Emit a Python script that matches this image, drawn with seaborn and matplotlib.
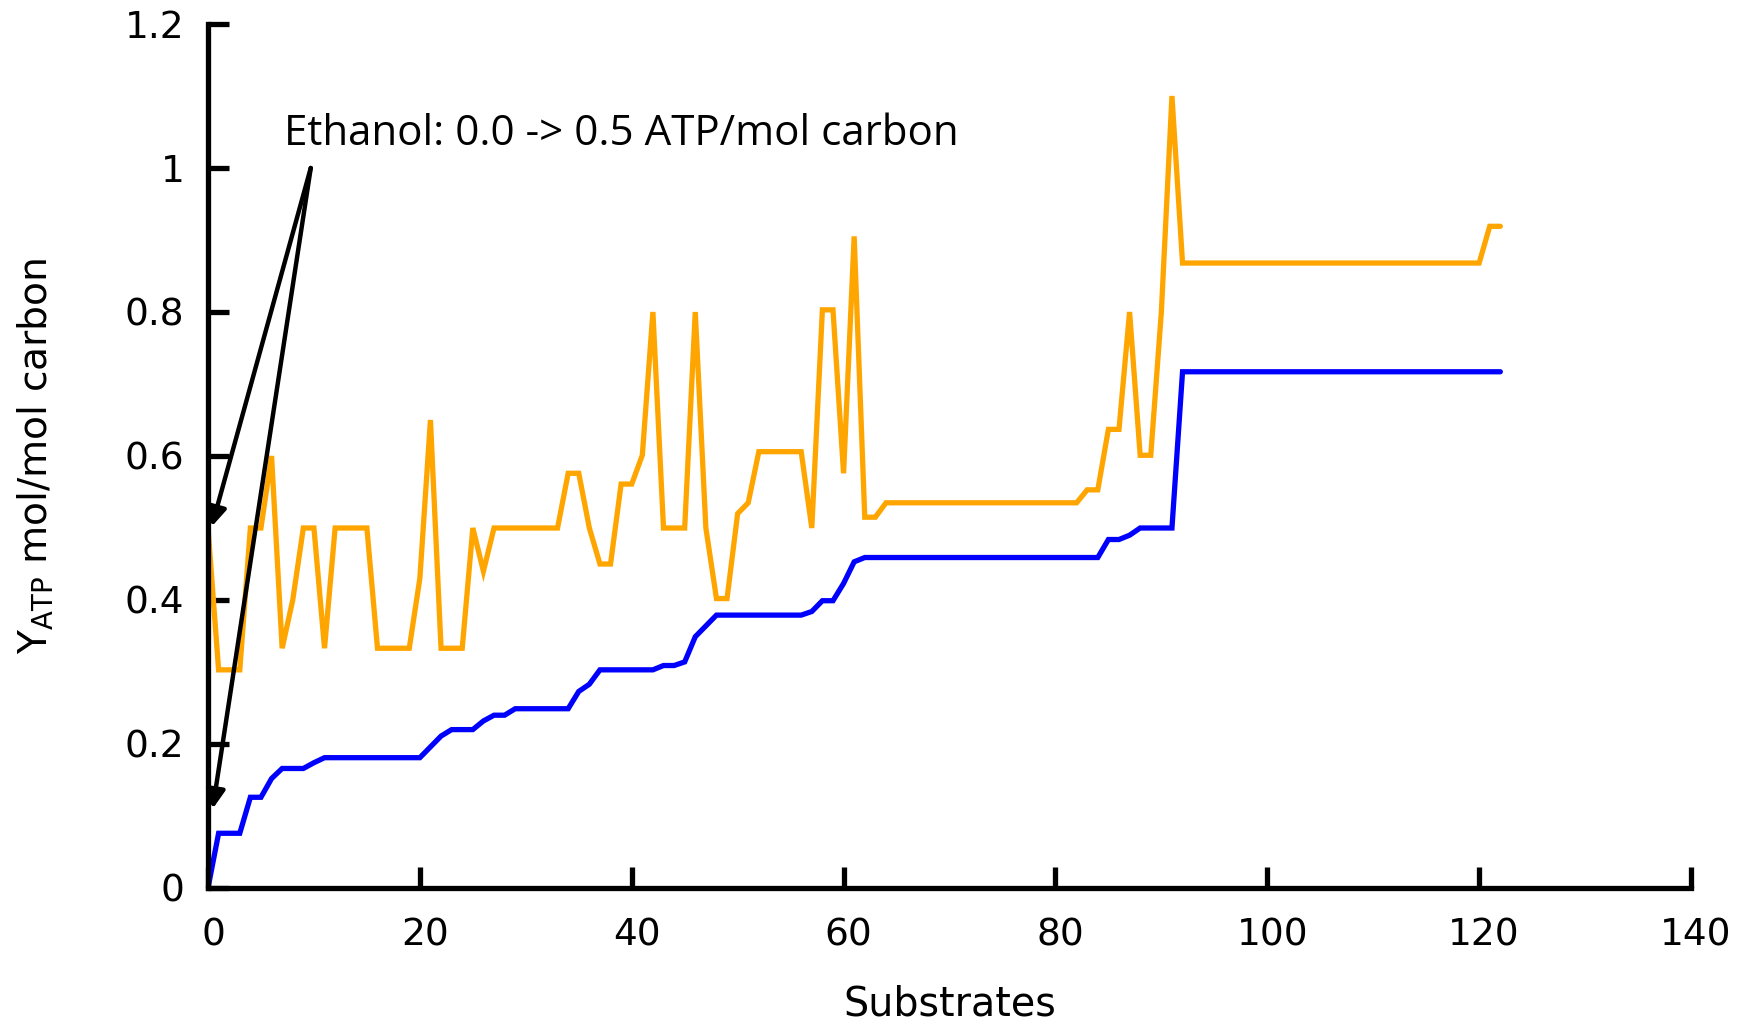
import matplotlib
matplotlib.use("Agg")
import matplotlib.pyplot as plt
import matplotlib.transforms as mtransforms
import numpy as np
import pandas as pd
import seaborn as sns

# ---- data ----
substrates = list(range(0, 123))

yatp_before = [
    0.0, 0.076, 0.076, 0.076, 0.126, 0.126, 0.152, 0.166, 0.166, 0.166,
    0.174, 0.181, 0.181, 0.181, 0.181, 0.181, 0.181, 0.181, 0.181, 0.181,
    0.181, 0.196, 0.211, 0.220, 0.220, 0.220, 0.232, 0.240, 0.240, 0.249,
    0.249, 0.249, 0.249, 0.249, 0.249, 0.273, 0.283, 0.303, 0.303, 0.303,
    0.303, 0.303, 0.303, 0.309, 0.309, 0.314, 0.349, 0.364, 0.379, 0.379,
    0.379, 0.379, 0.379, 0.379, 0.379, 0.379, 0.379, 0.384, 0.399, 0.399,
    0.423, 0.453, 0.459, 0.459, 0.459, 0.459, 0.459, 0.459, 0.459, 0.459,
    0.459, 0.459, 0.459, 0.459, 0.459, 0.459, 0.459, 0.459, 0.459, 0.459,
    0.459, 0.459, 0.459, 0.459, 0.459, 0.484, 0.484, 0.490, 0.500, 0.500,
    0.500, 0.500, 0.717, 0.717, 0.717, 0.717, 0.717, 0.717, 0.717, 0.717,
    0.717, 0.717, 0.717, 0.717, 0.717, 0.717, 0.717, 0.717, 0.717, 0.717,
    0.717, 0.717, 0.717, 0.717, 0.717, 0.717, 0.717, 0.717, 0.717, 0.717,
    0.717, 0.717, 0.717,
]

yatp_after = [
    0.500, 0.303, 0.303, 0.303, 0.500, 0.500, 0.600, 0.333, 0.400, 0.500,
    0.500, 0.333, 0.500, 0.500, 0.500, 0.500, 0.333, 0.333, 0.333, 0.333,
    0.430, 0.650, 0.333, 0.333, 0.333, 0.500, 0.440, 0.500, 0.500, 0.500,
    0.500, 0.500, 0.500, 0.500, 0.576, 0.576, 0.500, 0.450, 0.450, 0.561,
    0.561, 0.601, 0.800, 0.500, 0.500, 0.500, 0.800, 0.500, 0.402, 0.402,
    0.520, 0.535, 0.606, 0.606, 0.606, 0.606, 0.606, 0.500, 0.803, 0.803,
    0.576, 0.905, 0.515, 0.515, 0.535, 0.535, 0.535, 0.535, 0.535, 0.535,
    0.535, 0.535, 0.535, 0.535, 0.535, 0.535, 0.535, 0.535, 0.535, 0.535,
    0.535, 0.535, 0.535, 0.553, 0.553, 0.637, 0.637, 0.800, 0.601, 0.601,
    0.800, 1.100, 0.868, 0.868, 0.868, 0.868, 0.868, 0.868, 0.868, 0.868,
    0.868, 0.868, 0.868, 0.868, 0.868, 0.868, 0.868, 0.868, 0.868, 0.868,
    0.868, 0.868, 0.868, 0.868, 0.868, 0.868, 0.868, 0.868, 0.868, 0.868,
    0.868, 0.919, 0.919,
]

x_ticks = [0, 20, 40, 60, 80, 100, 120, 140]
x_tick_labels = ["0", "20", "40", "60", "80", "100", "120", "140"]
y_ticks = [0, 0.2, 0.4, 0.6, 0.8, 1.0, 1.2]
y_tick_labels = ["0", "0.2", "0.4", "0.6", "0.8", "1", "1.2"]

annotation_text = "Ethanol: 0.0 -> 0.5 ATP/mol carbon"

# ---- plotting ----
sns.set_theme(style="ticks")
plt.rcParams["font.family"] = ["DejaVu Sans"]
plt.rcParams["text.color"] = "black"
plt.rcParams["axes.labelcolor"] = "black"

df = pd.DataFrame({
    "Substrates": substrates + substrates,
    "Y": yatp_after + yatp_before,
    "series": ["after"] * len(substrates) + ["before"] * len(substrates),
})

fig = plt.figure(figsize=(17.47, 10.26), dpi=100)
ax = fig.add_axes([208 / 1747, 1 - 888 / 1026, (1691 - 208) / 1747, (888 - 24) / 1026])

sns.lineplot(data=df, x="Substrates", y="Y", hue="series",
             palette={"after": "#FFA500", "before": "#0000FF"},
             hue_order=["after", "before"], linewidth=3.8, legend=False,
             ax=ax, estimator=None, sort=False)
for ln in ax.get_lines():
    ln.set_solid_joinstyle("miter")

ax.set_xlim(0, 140)
ax.set_ylim(0, 1.2)
ax.set_xticks(x_ticks)
ax.set_xticklabels(x_tick_labels)
ax.set_yticks(y_ticks)
ax.set_yticklabels(y_tick_labels)

for s in ["top", "right"]:
    ax.spines[s].set_visible(False)
for s in ["left", "bottom"]:
    ax.spines[s].set_linewidth(3.8)
    ax.spines[s].set_color("black")
    ax.spines[s].set_capstyle("projecting")

ax.tick_params(axis="both", direction="in", length=15, width=3.8,
               color="black", labelsize=27, labelcolor="black")
ax.tick_params(axis="y", pad=17)
ax.tick_params(axis="x", pad=21)

offset = mtransforms.ScaledTranslation(5 / 100, 0, fig.dpi_scale_trans)
for lab in ax.get_xticklabels():
    lab.set_transform(lab.get_transform() + offset)

ax.set_xlabel("Substrates", fontsize=28.5, va="center", color="black")
ax.xaxis.set_label_coords(0.5, (888 - 1005) / (888 - 24))
ax.set_ylabel(r"Y$_\mathregular{ATP}$ mol/mol carbon", fontsize=28.3,
              va="center", color="black")
ax.yaxis.set_label_coords((36 - 208) / (1691 - 208), 0.5)

ax.text(7.2, 1.047, annotation_text, fontsize=30.3, ha="left", va="center",
        color="black", family=["Open Sans", "DejaVu Sans"])

arrow_kw = dict(arrowstyle="-|>", lw=3.2, color="black", mutation_scale=28,
                shrinkA=0, shrinkB=0)
ax.annotate("", xy=(0.35, 0.502), xytext=(9.7, 1.0), arrowprops=arrow_kw,
            annotation_clip=False)
ax.annotate("", xy=(0.44, 0.11), xytext=(9.7, 1.0), arrowprops=arrow_kw,
            annotation_clip=False)

fig.savefig("out.png", dpi=100, facecolor="white")
